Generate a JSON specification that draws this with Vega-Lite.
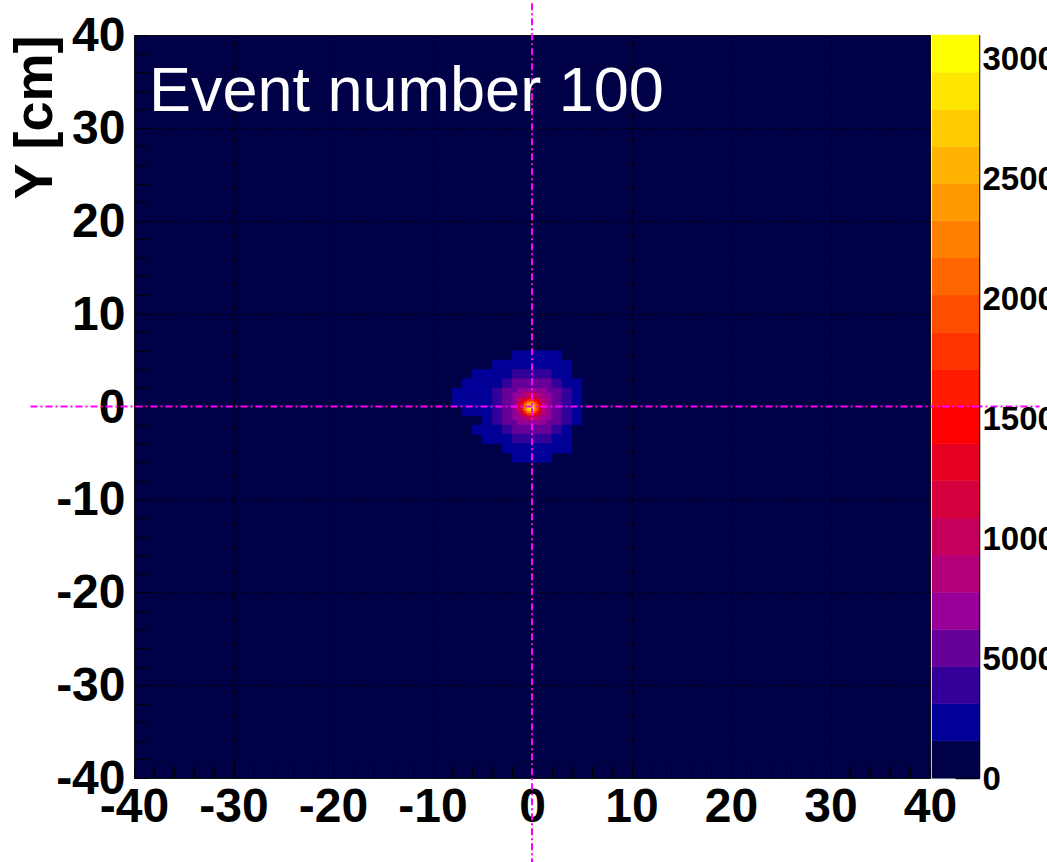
{
"$schema": "https://vega.github.io/schema/vega-lite/v6.json",
"background": "white",
"padding": {"left": 8, "top": 0, "right": 0, "bottom": 0},
"bounds": "flush",
"spacing": 2,
"config": {"view": {"stroke": null}, "font": "Liberation Sans"},
"hconcat": [
{
"width": 796, "height": 743,
"view": {"fill": "#000046", "stroke": "#111111", "strokeWidth": 1},
"resolve": {"axis": {"x": "independent", "y": "independent"}},
"layer": [
{
"data": {"values": [
{"x1":-1,"x2":-0.75,"y1":0.75,"y2":1,"v":10300},{"x1":-0.75,"x2":-0.5,"y1":0.75,"y2":1,"v":12100},{"x1":-0.5,"x2":-0.25,"y1":0.75,"y2":1,"v":13400},{"x1":-0.25,"x2":0,"y1":0.75,"y2":1,"v":13900},{"x1":0,"x2":0.25,"y1":0.75,"y2":1,"v":13400},{"x1":0.25,"x2":0.5,"y1":0.75,"y2":1,"v":12100},{"x1":0.5,"x2":0.75,"y1":0.75,"y2":1,"v":10300},{"x1":0.75,"x2":1,"y1":0.75,"y2":1,"v":8900},
{"x1":-1,"x2":-0.75,"y1":0.5,"y2":0.75,"v":13000},{"x1":-0.75,"x2":-0.5,"y1":0.5,"y2":0.75,"v":15400},{"x1":-0.5,"x2":-0.25,"y1":0.5,"y2":0.75,"v":17200},{"x1":-0.25,"x2":0,"y1":0.5,"y2":0.75,"v":18000},{"x1":0,"x2":0.25,"y1":0.5,"y2":0.75,"v":17200},{"x1":0.25,"x2":0.5,"y1":0.5,"y2":0.75,"v":15400},{"x1":0.5,"x2":0.75,"y1":0.5,"y2":0.75,"v":13000},{"x1":0.75,"x2":1,"y1":0.5,"y2":0.75,"v":10300},
{"x1":-1,"x2":-0.75,"y1":0.25,"y2":0.5,"v":15400},{"x1":-0.75,"x2":-0.5,"y1":0.25,"y2":0.5,"v":18800},{"x1":-0.5,"x2":-0.25,"y1":0.25,"y2":0.5,"v":21700},{"x1":-0.25,"x2":0,"y1":0.25,"y2":0.5,"v":23300},{"x1":0,"x2":0.25,"y1":0.25,"y2":0.5,"v":21700},{"x1":0.25,"x2":0.5,"y1":0.25,"y2":0.5,"v":18800},{"x1":0.5,"x2":0.75,"y1":0.25,"y2":0.5,"v":15400},{"x1":0.75,"x2":1,"y1":0.25,"y2":0.5,"v":12100},
{"x1":-1,"x2":-0.75,"y1":0,"y2":0.25,"v":17200},{"x1":-0.75,"x2":-0.5,"y1":0,"y2":0.25,"v":21700},{"x1":-0.5,"x2":-0.25,"y1":0,"y2":0.25,"v":26400},{"x1":-0.25,"x2":0,"y1":0,"y2":0.25,"v":28200},{"x1":0,"x2":0.25,"y1":0,"y2":0.25,"v":26400},{"x1":0.25,"x2":0.5,"y1":0,"y2":0.25,"v":21700},{"x1":0.5,"x2":0.75,"y1":0,"y2":0.25,"v":17200},{"x1":0.75,"x2":1,"y1":0,"y2":0.25,"v":13400},
{"x1":-1,"x2":-0.75,"y1":-0.25,"y2":0,"v":18000},{"x1":-0.75,"x2":-0.5,"y1":-0.25,"y2":0,"v":23300},{"x1":-0.5,"x2":-0.25,"y1":-0.25,"y2":0,"v":28200},{"x1":-0.25,"x2":0,"y1":-0.25,"y2":0,"v":30958},{"x1":0,"x2":0.25,"y1":-0.25,"y2":0,"v":28200},{"x1":0.25,"x2":0.5,"y1":-0.25,"y2":0,"v":23300},{"x1":0.5,"x2":0.75,"y1":-0.25,"y2":0,"v":18000},{"x1":0.75,"x2":1,"y1":-0.25,"y2":0,"v":13900},
{"x1":-1,"x2":-0.75,"y1":-0.5,"y2":-0.25,"v":17200},{"x1":-0.75,"x2":-0.5,"y1":-0.5,"y2":-0.25,"v":21700},{"x1":-0.5,"x2":-0.25,"y1":-0.5,"y2":-0.25,"v":26400},{"x1":-0.25,"x2":0,"y1":-0.5,"y2":-0.25,"v":28200},{"x1":0,"x2":0.25,"y1":-0.5,"y2":-0.25,"v":26400},{"x1":0.25,"x2":0.5,"y1":-0.5,"y2":-0.25,"v":21700},{"x1":0.5,"x2":0.75,"y1":-0.5,"y2":-0.25,"v":17200},{"x1":0.75,"x2":1,"y1":-0.5,"y2":-0.25,"v":13400},
{"x1":-1,"x2":-0.75,"y1":-0.75,"y2":-0.5,"v":15400},{"x1":-0.75,"x2":-0.5,"y1":-0.75,"y2":-0.5,"v":18800},{"x1":-0.5,"x2":-0.25,"y1":-0.75,"y2":-0.5,"v":21700},{"x1":-0.25,"x2":0,"y1":-0.75,"y2":-0.5,"v":23300},{"x1":0,"x2":0.25,"y1":-0.75,"y2":-0.5,"v":21700},{"x1":0.25,"x2":0.5,"y1":-0.75,"y2":-0.5,"v":18800},{"x1":0.5,"x2":0.75,"y1":-0.75,"y2":-0.5,"v":15400},{"x1":0.75,"x2":1,"y1":-0.75,"y2":-0.5,"v":12100},
{"x1":-1,"x2":-0.75,"y1":-1,"y2":-0.75,"v":13000},{"x1":-0.75,"x2":-0.5,"y1":-1,"y2":-0.75,"v":15400},{"x1":-0.5,"x2":-0.25,"y1":-1,"y2":-0.75,"v":17200},{"x1":-0.25,"x2":0,"y1":-1,"y2":-0.75,"v":18000},{"x1":0,"x2":0.25,"y1":-1,"y2":-0.75,"v":17200},{"x1":0.25,"x2":0.5,"y1":-1,"y2":-0.75,"v":15400},{"x1":0.5,"x2":0.75,"y1":-1,"y2":-0.75,"v":13000},{"x1":0.75,"x2":1,"y1":-1,"y2":-0.75,"v":10300},
{"x1":-2,"x2":-1.5,"y1":1.5,"y2":2,"v":6150},{"x1":-1.5,"x2":-1,"y1":1.5,"y2":2,"v":6800},{"x1":-1,"x2":-0.5,"y1":1.5,"y2":2,"v":7290},{"x1":-0.5,"x2":0,"y1":1.5,"y2":2,"v":7520},{"x1":0,"x2":0.5,"y1":1.5,"y2":2,"v":7460},{"x1":0.5,"x2":1,"y1":1.5,"y2":2,"v":7120},{"x1":1,"x2":1.5,"y1":1.5,"y2":2,"v":6560},{"x1":1.5,"x2":2,"y1":1.5,"y2":2,"v":5860},
{"x1":-2,"x2":-1.5,"y1":1,"y2":1.5,"v":6830},{"x1":-1.5,"x2":-1,"y1":1,"y2":1.5,"v":7610},{"x1":-1,"x2":-0.5,"y1":1,"y2":1.5,"v":9190},{"x1":-0.5,"x2":0,"y1":1,"y2":1.5,"v":10740},{"x1":0,"x2":0.5,"y1":1,"y2":1.5,"v":10320},{"x1":0.5,"x2":1,"y1":1,"y2":1.5,"v":8540},{"x1":1,"x2":1.5,"y1":1,"y2":1.5,"v":7320},{"x1":1.5,"x2":2,"y1":1,"y2":1.5,"v":6490},
{"x1":-2,"x2":-1.5,"y1":0.5,"y2":1,"v":7340},{"x1":-1.5,"x2":-1,"y1":0.5,"y2":1,"v":9330},{"x1":1,"x2":1.5,"y1":0.5,"y2":1,"v":8230},{"x1":1.5,"x2":2,"y1":0.5,"y2":1,"v":6960},
{"x1":-2,"x2":-1.5,"y1":0,"y2":0.5,"v":7610},{"x1":-1.5,"x2":-1,"y1":0,"y2":0.5,"v":11350},{"x1":1,"x2":1.5,"y1":0,"y2":0.5,"v":9190},{"x1":1.5,"x2":2,"y1":0,"y2":0.5,"v":7200},
{"x1":-2,"x2":-1.5,"y1":-0.5,"y2":0,"v":7580},{"x1":-1.5,"x2":-1,"y1":-0.5,"y2":0,"v":11020},{"x1":1,"x2":1.5,"y1":-0.5,"y2":0,"v":9080},{"x1":1.5,"x2":2,"y1":-0.5,"y2":0,"v":7170},
{"x1":-2,"x2":-1.5,"y1":-1,"y2":-0.5,"v":7260},{"x1":-1.5,"x2":-1,"y1":-1,"y2":-0.5,"v":8970},{"x1":1,"x2":1.5,"y1":-1,"y2":-0.5,"v":7930},{"x1":1.5,"x2":2,"y1":-1,"y2":-0.5,"v":6880},
{"x1":-2,"x2":-1.5,"y1":-1.5,"y2":-1,"v":6710},{"x1":-1.5,"x2":-1,"y1":-1.5,"y2":-1,"v":7460},{"x1":-1,"x2":-0.5,"y1":-1.5,"y2":-1,"v":8650},{"x1":-0.5,"x2":0,"y1":-1.5,"y2":-1,"v":9710},{"x1":0,"x2":0.5,"y1":-1.5,"y2":-1,"v":9330},{"x1":0.5,"x2":1,"y1":-1.5,"y2":-1,"v":8030},{"x1":1,"x2":1.5,"y1":-1.5,"y2":-1,"v":7170},{"x1":1.5,"x2":2,"y1":-1.5,"y2":-1,"v":6380},
{"x1":-2,"x2":-1.5,"y1":-2,"y2":-1.5,"v":6000},{"x1":-1.5,"x2":-1,"y1":-2,"y2":-1.5,"v":6630},{"x1":-1,"x2":-0.5,"y1":-2,"y2":-1.5,"v":7090},{"x1":-0.5,"x2":0,"y1":-2,"y2":-1.5,"v":7320},{"x1":0,"x2":0.5,"y1":-2,"y2":-1.5,"v":7260},{"x1":0.5,"x2":1,"y1":-2,"y2":-1.5,"v":6930},{"x1":1,"x2":1.5,"y1":-2,"y2":-1.5,"v":6400},{"x1":1.5,"x2":2,"y1":-2,"y2":-1.5,"v":5720},
{"x1":-2,"x2":-1,"y1":5,"y2":6,"v":1650},{"x1":-1,"x2":0,"y1":5,"y2":6,"v":1620},{"x1":0,"x2":1,"y1":5,"y2":6,"v":1610},{"x1":1,"x2":2,"y1":5,"y2":6,"v":1600},{"x1":2,"x2":3,"y1":5,"y2":6,"v":1580},
{"x1":-4,"x2":-3,"y1":4,"y2":5,"v":1620},{"x1":-3,"x2":-2,"y1":4,"y2":5,"v":2040},{"x1":-2,"x2":-1,"y1":4,"y2":5,"v":2470},{"x1":-1,"x2":0,"y1":4,"y2":5,"v":2690},{"x1":0,"x2":1,"y1":4,"y2":5,"v":2660},{"x1":1,"x2":2,"y1":4,"y2":5,"v":2400},{"x1":2,"x2":3,"y1":4,"y2":5,"v":1930},{"x1":3,"x2":4,"y1":4,"y2":5,"v":1600},
{"x1":-6,"x2":-5,"y1":3,"y2":4,"v":1600},{"x1":-5,"x2":-4,"y1":3,"y2":4,"v":1620},{"x1":-4,"x2":-3,"y1":3,"y2":4,"v":2270},{"x1":-3,"x2":-2,"y1":3,"y2":4,"v":2980},{"x1":-2,"x2":-1,"y1":3,"y2":4,"v":3680},{"x1":-1,"x2":0,"y1":3,"y2":4,"v":4070},{"x1":0,"x2":1,"y1":3,"y2":4,"v":4020},{"x1":1,"x2":2,"y1":3,"y2":4,"v":3560},{"x1":2,"x2":3,"y1":3,"y2":4,"v":2850},{"x1":3,"x2":4,"y1":3,"y2":4,"v":2120},
{"x1":-7,"x2":-6,"y1":2,"y2":3,"v":1600},{"x1":-6,"x2":-5,"y1":2,"y2":3,"v":1620},{"x1":-5,"x2":-4,"y1":2,"y2":3,"v":2060},{"x1":-4,"x2":-3,"y1":2,"y2":3,"v":3000},{"x1":-3,"x2":-2,"y1":2,"y2":3,"v":4130},{"x1":-2,"x2":-1,"y1":2,"y2":3,"v":5220},{"x1":-1,"x2":0,"y1":2,"y2":3,"v":5920},{"x1":0,"x2":1,"y1":2,"y2":3,"v":5840},{"x1":1,"x2":2,"y1":2,"y2":3,"v":5000},{"x1":2,"x2":3,"y1":2,"y2":3,"v":3910},{"x1":3,"x2":4,"y1":2,"y2":3,"v":2820},{"x1":4,"x2":5,"y1":2,"y2":3,"v":1870},
{"x1":-8,"x2":-7,"y1":1,"y2":2,"v":1600},{"x1":-7,"x2":-6,"y1":1,"y2":2,"v":1620},{"x1":-6,"x2":-5,"y1":1,"y2":2,"v":1650},{"x1":-5,"x2":-4,"y1":1,"y2":2,"v":2510},{"x1":-4,"x2":-3,"y1":1,"y2":2,"v":3720},{"x1":-3,"x2":-2,"y1":1,"y2":2,"v":5260},{"x1":2,"x2":3,"y1":1,"y2":2,"v":4900},{"x1":3,"x2":4,"y1":1,"y2":2,"v":3440},{"x1":4,"x2":5,"y1":1,"y2":2,"v":2300},
{"x1":-8,"x2":-7,"y1":0,"y2":1,"v":1600},{"x1":-7,"x2":-6,"y1":0,"y2":1,"v":1620},{"x1":-6,"x2":-5,"y1":0,"y2":1,"v":1640},{"x1":-5,"x2":-4,"y1":0,"y2":1,"v":2740},{"x1":-4,"x2":-3,"y1":0,"y2":1,"v":4130},{"x1":-3,"x2":-2,"y1":0,"y2":1,"v":6000},{"x1":2,"x2":3,"y1":0,"y2":1,"v":5600},{"x1":3,"x2":4,"y1":0,"y2":1,"v":3830},{"x1":4,"x2":5,"y1":0,"y2":1,"v":2520},
{"x1":-7,"x2":-6,"y1":-1,"y2":0,"v":1600},{"x1":-6,"x2":-5,"y1":-1,"y2":0,"v":1640},{"x1":-5,"x2":-4,"y1":-1,"y2":0,"v":2730},{"x1":-4,"x2":-3,"y1":-1,"y2":0,"v":4110},{"x1":-3,"x2":-2,"y1":-1,"y2":0,"v":5960},{"x1":2,"x2":3,"y1":-1,"y2":0,"v":5560},{"x1":3,"x2":4,"y1":-1,"y2":0,"v":3810},{"x1":4,"x2":5,"y1":-1,"y2":0,"v":2510},
{"x1":-5,"x2":-4,"y1":-2,"y2":-1,"v":2470},{"x1":-4,"x2":-3,"y1":-2,"y2":-1,"v":3660},{"x1":-3,"x2":-2,"y1":-2,"y2":-1,"v":5150},{"x1":2,"x2":3,"y1":-2,"y2":-1,"v":4790},{"x1":3,"x2":4,"y1":-2,"y2":-1,"v":3380},{"x1":4,"x2":5,"y1":-2,"y2":-1,"v":2260},
{"x1":-6,"x2":-5,"y1":-3,"y2":-2,"v":1620},{"x1":-5,"x2":-4,"y1":-3,"y2":-2,"v":2010},{"x1":-4,"x2":-3,"y1":-3,"y2":-2,"v":2930},{"x1":-3,"x2":-2,"y1":-3,"y2":-2,"v":4020},{"x1":-2,"x2":-1,"y1":-3,"y2":-2,"v":5040},{"x1":-1,"x2":0,"y1":-3,"y2":-2,"v":5720},{"x1":0,"x2":1,"y1":-3,"y2":-2,"v":5640},{"x1":1,"x2":2,"y1":-3,"y2":-2,"v":4830},{"x1":2,"x2":3,"y1":-3,"y2":-2,"v":3810},{"x1":3,"x2":4,"y1":-3,"y2":-2,"v":2750},
{"x1":-5,"x2":-4,"y1":-4,"y2":-3,"v":1640},{"x1":-4,"x2":-3,"y1":-4,"y2":-3,"v":2200},{"x1":-3,"x2":-2,"y1":-4,"y2":-3,"v":2890},{"x1":-2,"x2":-1,"y1":-4,"y2":-3,"v":3540},{"x1":-1,"x2":0,"y1":-4,"y2":-3,"v":3910},{"x1":0,"x2":1,"y1":-4,"y2":-3,"v":3870},{"x1":1,"x2":2,"y1":-4,"y2":-3,"v":3420},{"x1":2,"x2":3,"y1":-4,"y2":-3,"v":2760},{"x1":3,"x2":4,"y1":-4,"y2":-3,"v":2040},
{"x1":-3,"x2":-2,"y1":-5,"y2":-4,"v":1940},{"x1":-2,"x2":-1,"y1":-5,"y2":-4,"v":2370},{"x1":-1,"x2":0,"y1":-5,"y2":-4,"v":2580},{"x1":0,"x2":1,"y1":-5,"y2":-4,"v":2560},{"x1":1,"x2":2,"y1":-5,"y2":-4,"v":2300},{"x1":2,"x2":3,"y1":-5,"y2":-4,"v":1840},{"x1":3,"x2":4,"y1":-5,"y2":-4,"v":1620},
{"x1":-2,"x2":-1,"y1":-6,"y2":-5,"v":1620},{"x1":-1,"x2":0,"y1":-6,"y2":-5,"v":1640},{"x1":0,"x2":1,"y1":-6,"y2":-5,"v":1640},{"x1":1,"x2":2,"y1":-6,"y2":-5,"v":1610}
]},
"mark": {"type": "rect", "strokeWidth": 0.5},
"encoding": {
"x": {"field": "x1", "type": "quantitative", "scale": {"domain": [-40, 40], "nice": false, "zero": false},
"axis": {"orient": "bottom", "values": [-40,-38,-36,-34,-32,-30,-28,-26,-24,-22,-20,-18,-16,-14,-12,-10,-8,-6,-4,-2,0,2,4,6,8,10,12,14,16,18,20,22,24,26,28,30,32,34,36,38,40],
"labelExpr": "datum.value % 10 === 0 ? '' + datum.value : ''", "tickSize": -12, "tickColor": "#000000", "tickWidth": 1,
"labelFont": "Liberation Sans", "labelFontWeight": "bold", "labelFontSize": 48, "labelColor": "#000000", "labelPadding": 17.5,
"grid": false, "domain": false, "title": null, "labelOverlap": false, "labelBound": false, "labelFlush": false}},
"x2": {"field": "x2"},
"y": {"field": "y1", "type": "quantitative", "scale": {"domain": [-40, 40], "nice": false, "zero": false},
"axis": {"orient": "left", "values": [-40,-38,-36,-34,-32,-30,-28,-26,-24,-22,-20,-18,-16,-14,-12,-10,-8,-6,-4,-2,0,2,4,6,8,10,12,14,16,18,20,22,24,26,28,30,32,34,36,38,40],
"labelExpr": "datum.value % 10 === 0 ? '' + datum.value : ''", "tickSize": -14, "tickColor": "#000000", "tickWidth": 1,
"labelFont": "Liberation Sans", "labelFontWeight": "bold", "labelFontSize": 48, "labelColor": "#000000", "labelPadding": 23, "labelOffset": 1.5,
"grid": false, "domain": false, "title": "Y [cm]", "titleFont": "Liberation Sans", "titleFontWeight": "bold", "titleFontSize": 54, "titleColor": "#000000", "titleAnchor": "end", "titlePadding": -7,
"labelOverlap": false, "labelBound": false, "labelFlush": false}},
"y2": {"field": "y2"},
"color": {"field": "v", "type": "quantitative", "legend": null,
"scale": {"type": "threshold", "domain": [1548,3096,4644,6192,7740,9288,10836,12384,13932,15480,17028,18576,20124,21672,23220,24768,26316,27864,29412],
"range": ["#000046","#000099","#330099","#660099","#990099","#b3007a","#c4005c","#d6003f","#e60022","#ff0000","#ff1a00","#ff3300","#ff4d00","#ff6600","#ff8000","#ff9900","#ffb300","#ffcc00","#ffe600","#ffff00"]}},
"stroke": {"field": "v", "type": "quantitative", "legend": null,
"scale": {"type": "threshold", "domain": [1548,3096,4644,6192,7740,9288,10836,12384,13932,15480,17028,18576,20124,21672,23220,24768,26316,27864,29412],
"range": ["#000046","#000099","#330099","#660099","#990099","#b3007a","#c4005c","#d6003f","#e60022","#ff0000","#ff1a00","#ff3300","#ff4d00","#ff6600","#ff8000","#ff9900","#ffb300","#ffcc00","#ffe600","#ffff00"]}}
}
},
{
"data": {"values": [{"x1": -50.4, "x2": 51, "y1": 0, "y2": 0}, {"x1": 0, "x2": 0, "y1": -49.4, "y2": 43.6}]},
"mark": {"type": "rule", "color": "#ff00ff", "strokeWidth": 2, "strokeDash": [7, 3, 2, 3]},
"encoding": {
"x": {"field": "x1", "type": "quantitative", "scale": {"domain": [-40, 40], "nice": false, "zero": false},
"axis": {"orient": "top", "values": [-30,-20,-10,0,10,20,30], "grid": true, "gridColor": "#000000", "gridOpacity": 1, "gridWidth": 1, "gridDash": [5,3,1,3], "labels": false, "ticks": false, "domain": false, "title": null}},
"x2": {"field": "x2"},
"y": {"field": "y1", "type": "quantitative", "scale": {"domain": [-40, 40], "nice": false, "zero": false},
"axis": {"orient": "right", "values": [-30,-20,-10,0,10,20,30], "grid": true, "gridColor": "#000000", "gridOpacity": 1, "gridWidth": 1, "gridDash": [5,3,1,3], "labels": false, "ticks": false, "domain": false, "title": null}},
"y2": {"field": "y2"}
}
},
{
"data": {"values": [{"label": "Event number 100"}]},
"mark": {"type": "text", "align": "left", "baseline": "alphabetic", "font": "Liberation Sans", "fontSize": 63, "color": "#ffffff"},
"encoding": {
"x": {"datum": -38.5, "axis": null},
"y": {"datum": 31.8, "axis": null},
"text": {"field": "label"}
}
}
]
},
{
"width": 47, "height": 743,
"view": {"stroke": "#999999", "strokeWidth": 1},
"layer": [
{
"data": {"values": [
{"lo":0,"hi":1548},{"lo":1548,"hi":3096},{"lo":3096,"hi":4644},{"lo":4644,"hi":6192},{"lo":6192,"hi":7740},
{"lo":7740,"hi":9288},{"lo":9288,"hi":10836},{"lo":10836,"hi":12384},{"lo":12384,"hi":13932},{"lo":13932,"hi":15480},
{"lo":15480,"hi":17028},{"lo":17028,"hi":18576},{"lo":18576,"hi":20124},{"lo":20124,"hi":21672},{"lo":21672,"hi":23220},
{"lo":23220,"hi":24768},{"lo":24768,"hi":26316},{"lo":26316,"hi":27864},{"lo":27864,"hi":29412},{"lo":29412,"hi":30960}
]},
"mark": {"type": "rect", "strokeWidth": 0.5},
"encoding": {
"y": {"field": "lo", "type": "quantitative", "scale": {"domain": [0, 30960], "nice": false, "zero": false},
"axis": {"orient": "right", "values": [0,5000,10000,15000,20000,25000,30000], "labelExpr": "'' + datum.value",
"tickSize": -24, "tickColor": "#000000", "tickWidth": 1.5, "domain": true, "domainColor": "#000000", "domainWidth": 1.5,
"labelFont": "Liberation Sans", "labelFontWeight": "bold", "labelFontSize": 33, "labelColor": "#000000", "labelPadding": 27, "labelOffset": 1, "labelBaseline": "middle",
"title": null, "grid": false, "labelOverlap": false, "labelBound": false, "labelFlush": false}},
"y2": {"field": "hi"},
"color": {"field": "lo", "type": "quantitative", "legend": null,
"scale": {"type": "threshold", "domain": [1548,3096,4644,6192,7740,9288,10836,12384,13932,15480,17028,18576,20124,21672,23220,24768,26316,27864,29412],
"range": ["#000046","#000099","#330099","#660099","#990099","#b3007a","#c4005c","#d6003f","#e60022","#ff0000","#ff1a00","#ff3300","#ff4d00","#ff6600","#ff8000","#ff9900","#ffb300","#ffcc00","#ffe600","#ffff00"]}},
"stroke": {"field": "lo", "type": "quantitative", "legend": null,
"scale": {"type": "threshold", "domain": [1548,3096,4644,6192,7740,9288,10836,12384,13932,15480,17028,18576,20124,21672,23220,24768,26316,27864,29412],
"range": ["#000046","#000099","#330099","#660099","#990099","#b3007a","#c4005c","#d6003f","#e60022","#ff0000","#ff1a00","#ff3300","#ff4d00","#ff6600","#ff8000","#ff9900","#ffb300","#ffcc00","#ffe600","#ffff00"]}}
}
},
{
"data": {"values": [{"level": 15480}]},
"mark": {"type": "rule", "color": "#ff00ff", "strokeWidth": 2, "strokeDash": [7, 3, 2, 3]},
"encoding": {
"y": {"field": "level", "type": "quantitative", "title": null}
}
}
]
}
]
}
